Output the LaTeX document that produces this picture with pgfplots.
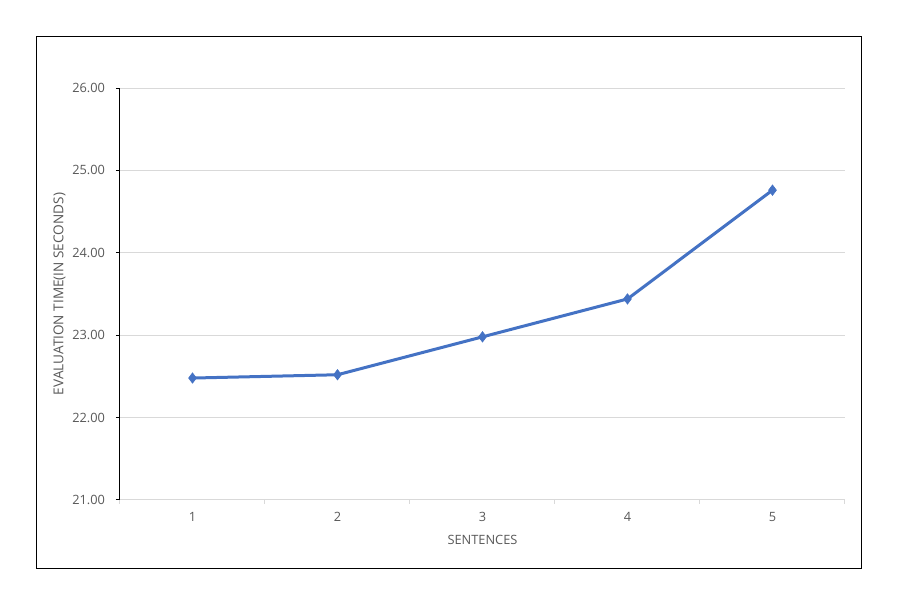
\documentclass[border=0pt]{standalone}
\usepackage{fontspec}
\setmainfont{Open Sans}
\usepackage{pgfplots}
\pgfplotsset{compat=1.18}
\definecolor{linecol}{HTML}{4472C4}
\definecolor{gridcol}{HTML}{D9D9D9}
\definecolor{txtcol}{HTML}{595959}
\begin{document}
\begin{tikzpicture}
\path[use as bounding box, fill=white] (0pt,0pt) rectangle (450.5pt,308pt);
\draw[black, line width=0.65pt] (18.25pt,23.75pt) rectangle (430.75pt,289.75pt);
\begin{axis}[
  at={(60pt,58pt)}, anchor=south west,
  scale only axis, width=362.5pt, height=206pt,
  xmin=0.5, xmax=5.5, ymin=21, ymax=26,
  axis x line*=bottom, axis y line*=left,
  x axis line style={draw=gridcol, line width=0.5pt, -},
  y axis line style={draw=black, line width=0.5pt, -},
  xtick={1,2,3,4,5},
  major x tick style={draw=none},
  minor xtick={0.5,1.5,2.5,3.5,4.5,5.5},
  minor x tick style={draw=gridcol, line width=0.5pt},
  minor tick length=2pt,
  ytick={21,22,23,24,25,26},
  major y tick style={draw=black, line width=0.5pt},
  major tick length=2pt,
  tick align=outside,
  ymajorgrids, grid style={draw=gridcol, line width=0.5pt},
  /pgf/number format/assume math mode=true,
  y tick label style={/pgf/number format/fixed, /pgf/number format/fixed zerofill, /pgf/number format/precision=2},
  tick label style={font=\fontsize{6.4}{7.5}\selectfont, text=txtcol},
  xticklabel style={yshift=-0.5pt},
  yticklabel style={xshift=-2pt},
  xlabel={SENTENCES},
  ylabel={EVALUATION TIME(IN SECONDS)},
  label style={font=\fontsize{6.4}{7.5}\selectfont, text=txtcol},
  xlabel style={yshift=0pt},
  ylabel style={yshift=-3.5pt, font=\fontsize{6.8}{7.5}\selectfont},
  clip=false,
]
\addplot[color=linecol, line width=1.5pt, mark=diamond*, mark size=2.6pt, mark options={fill=linecol, draw=linecol, line width=0.3pt}]
coordinates {(1,22.48) (2,22.52) (3,22.98) (4,23.44) (5,24.76)};
\end{axis}
\end{tikzpicture}
\end{document}
